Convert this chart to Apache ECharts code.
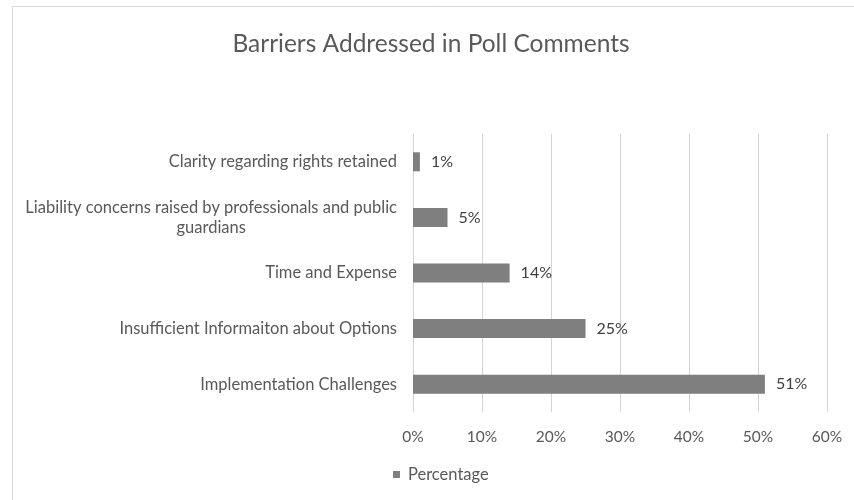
<!DOCTYPE html>
<html>
<head>
<meta charset="utf-8">
<script src="https://cdn.jsdelivr.net/npm/echarts@6/dist/echarts.min.js"></script>
<style>
  html, body { margin: 0; padding: 0; background: #ffffff; }
  #chart { width: 854px; height: 500px; }
</style>
</head>
<body>
<div id="chart"></div>
<script>
// Categories listed from top to bottom
const categories = [
  'Clarity regarding rights retained',
  'Liability concerns raised by professionals and public\nguardians',
  'Time and Expense',
  'Insufficient Informaiton about Options',
  'Implementation Challenges'
];
// Share of comments, in percent
const percentages = [1, 5, 14, 25, 51];
const seriesName = 'Percentage';
const titleText = 'Barriers Addressed in Poll Comments';

const FONT = 'Lato, "Open Sans", sans-serif';
const TEXT_GREY = '#595959';

const chart = echarts.init(document.getElementById('chart'), null, { renderer: 'canvas' });

chart.setOption({
  backgroundColor: '#ffffff',
  animation: false,
  textStyle: { fontFamily: FONT },
  title: {
    text: titleText,
    left: 431,
    top: 32,
    padding: 0,
    textAlign: 'center',
    textStyle: { fontFamily: FONT, fontSize: 24.5, fontWeight: 'normal', color: TEXT_GREY }
  },
  graphic: [{
    type: 'polyline',
    silent: true,
    shape: { points: [[12.5, 520], [12.5, 6.5], [870, 6.5]] },
    style: { stroke: '#d9d9d9', lineWidth: 1, fill: null }
  }],
  legend: {
    data: [seriesName],
    left: 393,
    top: 466,
    padding: 0,
    icon: 'rect',
    itemWidth: 7,
    itemHeight: 7,
    textStyle: { fontFamily: FONT, fontSize: 16.5, color: TEXT_GREY, padding: [0, 0, 0, 3] }
  },
  grid: { left: 413, right: 27, top: 134, bottom: 88, containLabel: false },
  xAxis: {
    type: 'value',
    min: 0,
    max: 60,
    interval: 10,
    axisLine: { show: false },
    axisTick: { show: false },
    splitLine: { show: true, lineStyle: { color: '#d4d4d4', width: 1 } },
    axisLabel: {
      formatter: '{value}%',
      margin: 17,
      fontFamily: FONT,
      fontSize: 15.5,
      color: TEXT_GREY
    }
  },
  yAxis: {
    type: 'category',
    data: categories,
    inverse: true,
    axisLine: { show: false },
    axisTick: { show: false },
    axisLabel: {
      margin: 16,
      fontFamily: FONT,
      fontSize: 16.5,
      color: TEXT_GREY,
      lineHeight: 20,
      formatter: function (v) {
        return v.split('\n').map(function (s) { return '{c|' + s + '}'; }).join('\n');
      },
      rich: {
        c: { align: 'center', fontFamily: FONT, fontSize: 16.5, color: TEXT_GREY, lineHeight: 20 }
      }
    }
  },
  series: [{
    name: seriesName,
    type: 'bar',
    data: percentages,
    barWidth: 19,
    itemStyle: { color: '#7f7f7f' },
    label: {
      show: true,
      position: 'right',
      distance: 11,
      formatter: '{c}%',
      fontFamily: FONT,
      fontSize: 16,
      color: '#404040'
    }
  }]
});
</script>
</body>
</html>
